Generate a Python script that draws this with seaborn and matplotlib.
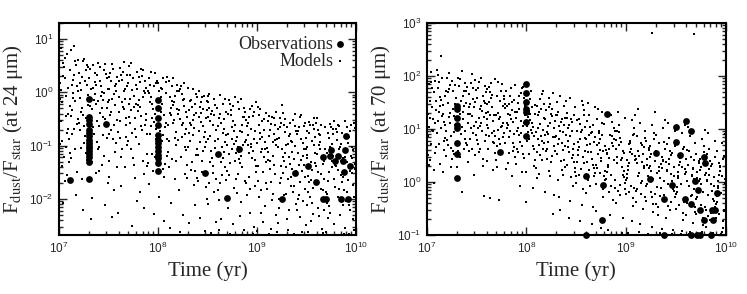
import numpy as np
import pandas as pd
import matplotlib
matplotlib.use("Agg")
import matplotlib.pyplot as plt
import seaborn as sns

# ---------------- data (log10 time [yr], log10 Fdust/Fstar) ----------------
models24 = [
(7.04,0.31),(7.08,-0.77),(7.01,-0.12),(7.06,0.64),(7.03,-1.38),(7.09,0.09),(7.02,-0.53),(7.07,-1.02),(7.05,0.47),(7.00,-0.26),(7.08,0.72),(7.03,-0.91),(7.06,-1.67),(7.01,0.18),(7.09,-0.41),(7.04,-2.08),(7.02,0.83),(7.07,-0.06),(7.05,-1.21),(7.00,0.38),
(7.13,-0.33),(7.17,0.52),(7.11,-1.14),(7.19,0.03),(7.15,-0.68),(7.12,0.79),(7.18,-1.49),(7.14,0.24),(7.10,-0.87),(7.16,-0.17),(7.19,0.61),(7.12,-0.44),(7.17,-1.93),(7.14,-0.02),(7.11,0.42),(7.16,-1.06),(7.13,0.14),(7.18,-0.59),(7.15,0.86),(7.10,-1.31),
(7.26,0.21),(7.21,-0.71),(7.29,-0.23),(7.24,0.58),(7.28,-1.27),(7.22,0.04),(7.27,-0.49),(7.20,0.36),(7.25,-0.96),(7.23,-1.62),(7.29,0.47),(7.21,-0.11),(7.26,-0.82),(7.24,-2.21),(7.28,0.13),(7.22,-0.37),(7.25,0.63),(7.27,-1.13),(7.20,-0.58),(7.23,0.28),
(7.35,-0.14),(7.31,0.44),(7.38,-0.93),(7.33,-0.31),(7.36,0.19),(7.30,-1.18),(7.39,0.55),(7.34,-0.66),(7.32,0.07),(7.37,-1.52),(7.31,-0.45),(7.38,0.32),(7.35,-0.79),(7.33,-1.99),(7.36,-0.04),(7.30,0.27),(7.39,-1.07),(7.34,0.51),(7.37,-0.22),(7.32,-2.38),
(7.42,0.12),(7.47,-0.57),(7.40,-1.03),(7.45,0.41),(7.49,-0.18),(7.43,-1.36),(7.48,0.26),(7.41,-0.39),(7.46,0.53),(7.44,-0.81),(7.49,-1.71),(7.42,-0.07),(7.47,0.34),(7.40,-0.63),(7.45,-1.19),(7.43,0.01),(7.48,-0.29),(7.41,0.48),(7.46,-2.12),(7.44,-0.46),
(7.57,-0.24),(7.52,0.37),(7.55,-0.88),(7.50,0.06),(7.59,-0.52),(7.54,0.54),(7.51,-1.29),(7.58,0.16),(7.53,-0.71),(7.56,-0.03),(7.50,-1.58),(7.59,0.29),(7.52,-0.43),(7.57,-1.12),(7.54,-2.34),(7.55,0.44),(7.51,-0.15),(7.58,-0.96),(7.53,0.21),(7.56,-1.84),
(7.63,0.33),(7.68,-0.48),(7.61,-0.09),(7.66,0.57),(7.64,-1.07),(7.69,0.11),(7.60,-0.74),(7.65,-0.27),(7.67,-1.41),(7.62,0.46),(7.68,-0.61),(7.63,-1.76),(7.66,0.02),(7.61,-0.36),(7.69,-0.99),(7.64,0.24),(7.60,-2.27),(7.67,-0.13),(7.62,-0.85),(7.65,0.39),
(7.76,-0.06),(7.71,0.49),(7.78,-0.83),(7.73,-0.34),(7.70,0.17),(7.75,-1.24),(7.79,0.38),(7.72,-0.58),(7.77,-1.61),(7.74,0.04),(7.70,-0.92),(7.78,-0.21),(7.73,0.55),(7.76,-1.37),(7.71,-0.47),(7.79,-2.04),(7.75,0.26),(7.72,-0.12),(7.77,-0.69),(7.74,-2.51),
(7.82,0.19),(7.87,-0.62),(7.80,-0.23),(7.85,0.41),(7.89,-1.16),(7.83,-0.44),(7.88,0.08),(7.81,-0.97),(7.86,-1.53),(7.84,0.31),(7.80,-0.35),(7.89,-0.78),(7.82,-1.88),(7.87,-0.01),(7.85,-1.29),(7.83,0.43),(7.88,-0.52),(7.81,-0.14),(7.86,-2.18),(7.84,-0.71),
(7.95,-0.32),(7.91,0.27),(7.98,-0.87),(7.93,-0.09),(7.97,0.36),(7.90,-1.33),(7.96,-0.56),(7.92,0.13),(7.99,-1.04),(7.94,-0.22),(7.91,-1.72),(7.97,-0.41),(7.93,0.39),(7.98,-0.68),(7.95,-1.47),(7.90,0.02),(7.96,-2.29),(7.92,-0.79),(7.99,0.21),(7.94,-1.15),
(8.03,0.09),(8.07,-0.66),(8.01,-0.28),(8.05,0.26),(8.09,-1.19),(8.02,-0.49),(8.08,-0.02),(8.04,-0.92),(8.06,-1.58),(8.00,0.17),(8.03,-0.37),(8.07,-1.34),(8.05,-0.81),(8.09,0.29),(8.01,-1.97),(8.08,-0.57),(8.02,-0.13),(8.06,-2.42),(8.04,0.06),(8.00,-1.08),
(8.16,-0.19),(8.11,0.21),(8.18,-0.74),(8.13,-0.43),(8.19,0.03),(8.14,-1.26),(8.10,-0.61),(8.17,-1.63),(8.12,-0.08),(8.15,0.27),(8.18,-0.98),(8.11,-1.41),(8.16,-0.52),(8.13,-2.07),(8.19,-0.31),(8.14,0.11),(8.10,-1.12),(8.17,-0.86),(8.12,-2.55),(8.15,-0.24),
(8.24,-0.04),(8.28,-0.69),(8.21,-0.33),(8.26,0.18),(8.23,-1.21),(8.29,-0.47),(8.20,-0.89),(8.27,-1.54),(8.25,-0.15),(8.22,0.07),(8.28,-1.09),(8.24,-0.62),(8.21,-1.83),(8.26,-0.26),(8.29,-1.37),(8.23,0.12),(8.27,-0.78),(8.25,-2.31),(8.20,-0.41),(8.22,-2.62),
(8.37,-0.21),(8.32,-0.58),(8.35,0.06),(8.30,-1.02),(8.38,-0.39),(8.33,-1.46),(8.39,-0.09),(8.31,-0.76),(8.36,-1.73),(8.34,-0.28),(8.30,0.09),(8.38,-1.18),(8.32,-0.91),(8.37,-2.12),(8.35,-0.52),(8.33,-0.14),(8.39,-1.61),(8.31,-2.45),(8.36,-0.67),(8.34,-1.31),
(8.42,-0.27),(8.46,-0.83),(8.41,0.02),(8.48,-0.49),(8.44,-1.29),(8.49,-0.16),(8.40,-1.66),(8.45,-0.63),(8.47,-1.03),(8.43,-0.38),(8.49,-2.01),(8.41,-0.72),(8.46,-0.07),(8.44,-1.49),(8.48,-0.94),(8.42,-2.36),(8.45,-0.31),(8.40,-1.17),(8.47,-2.61),(8.43,-0.55),
(8.55,-0.35),(8.51,-0.06),(8.58,-0.91),(8.53,-0.54),(8.56,-1.38),(8.50,-0.19),(8.59,-0.71),(8.52,-1.71),(8.57,-0.43),(8.54,-1.11),(8.50,-2.09),(8.58,-0.24),(8.53,-0.82),(8.56,-1.52),(8.51,-0.47),(8.59,-2.44),(8.55,-1.24),(8.52,-0.03),(8.57,-1.88),(8.54,-2.64),
(8.63,-0.41),(8.68,-0.12),(8.61,-0.87),(8.66,-1.23),(8.64,-0.58),(8.69,-1.64),(8.60,-0.29),(8.65,-1.02),(8.67,-0.69),(8.62,-2.03),(8.68,-1.41),(8.63,-0.05),(8.66,-0.77),(8.61,-1.83),(8.69,-0.36),(8.64,-2.38),(8.60,-1.14),(8.67,-0.51),(8.62,-2.59),(8.65,-1.56),
(8.74,-0.33),(8.71,-0.79),(8.78,-0.08),(8.72,-1.16),(8.76,-0.54),(8.70,-1.47),(8.79,-0.92),(8.73,-0.21),(8.77,-1.79),(8.75,-0.66),(8.71,-2.18),(8.78,-1.28),(8.74,-0.43),(8.70,-0.98),(8.76,-2.47),(8.72,-0.14),(8.79,-1.62),(8.77,-0.73),(8.73,-2.66),(8.75,-1.07),
(8.86,-0.46),(8.81,-0.18),(8.88,-0.94),(8.83,-1.33),(8.85,-0.61),(8.89,-1.71),(8.80,-0.84),(8.87,-0.29),(8.82,-1.12),(8.84,-2.06),(8.89,-0.52),(8.81,-1.54),(8.86,-0.99),(8.83,-2.33),(8.88,-0.37),(8.80,-1.89),(8.85,-0.74),(8.87,-2.58),(8.82,-1.26),(8.84,-0.12),
(8.93,-0.31),(8.97,-0.88),(8.91,-0.57),(8.95,-1.24),(8.99,-0.19),(8.92,-1.59),(8.98,-0.72),(8.94,-1.03),(8.90,-1.92),(8.96,-0.44),(8.93,-2.27),(8.99,-1.38),(8.91,-0.81),(8.97,-2.52),(8.95,-0.26),(8.92,-1.14),(8.98,-1.76),(8.90,-0.63),(8.96,-2.66),(8.94,-0.97),
(9.05,-0.53),(9.01,-0.28),(9.08,-1.07),(9.03,-0.76),(9.06,-1.49),(9.00,-0.95),(9.09,-0.39),(9.04,-1.83),(9.07,-1.22),(9.02,-0.61),(9.08,-2.14),(9.05,-0.84),(9.01,-1.66),(9.06,-2.43),(9.03,-0.32),(9.09,-1.31),(9.00,-2.61),(9.07,-0.71),(9.02,-1.97),(9.04,-1.12),
(9.12,-0.44),(9.16,-0.93),(9.11,-1.27),(9.18,-0.62),(9.14,-1.68),(9.19,-0.36),(9.10,-1.04),(9.15,-2.02),(9.17,-0.78),(9.13,-1.44),(9.19,-2.31),(9.11,-0.54),(9.16,-1.19),(9.14,-2.57),(9.18,-0.89),(9.10,-1.81),(9.15,-0.47),(9.12,-2.66),(9.17,-1.36),(9.13,-0.71),
(9.25,-0.23),(9.21,-0.69),(9.28,-1.13),(9.23,-0.48),(9.26,-1.52),(9.20,-0.87),(9.29,-1.91),(9.24,-0.57),(9.27,-1.29),(9.22,-2.18),(9.28,-0.74),(9.25,-1.06),(9.21,-2.46),(9.26,-0.39),(9.23,-1.71),(9.29,-0.98),(9.20,-2.63),(9.27,-0.61),(9.24,-1.38),(9.22,-2.01),
(9.36,-0.52),(9.31,-0.97),(9.38,-0.41),(9.33,-1.34),(9.37,-1.76),(9.30,-0.66),(9.35,-1.12),(9.39,-2.09),(9.32,-0.82),(9.34,-1.58),(9.30,-2.38),(9.38,-1.01),(9.33,-0.58),(9.36,-1.87),(9.31,-2.59),(9.39,-0.73),(9.35,-1.43),(9.32,-1.21),(9.37,-2.65),(9.34,-0.92),
(9.43,-0.47),(9.47,-1.06),(9.41,-0.73),(9.45,-1.48),(9.49,-0.86),(9.42,-1.93),(9.48,-0.58),(9.44,-1.27),(9.40,-2.21),(9.46,-0.95),(9.43,-1.69),(9.49,-2.49),(9.41,-1.14),(9.47,-0.64),(9.45,-2.62),(9.42,-1.37),(9.48,-1.81),(9.40,-0.79),(9.46,-2.04),(9.44,-0.43),
(9.54,-0.62),(9.51,-1.18),(9.58,-0.49),(9.52,-1.57),(9.56,-0.91),(9.50,-2.12),(9.59,-1.33),(9.53,-0.77),(9.57,-1.79),(9.55,-2.41),(9.51,-1.02),(9.58,-0.68),(9.52,-2.63),(9.56,-1.46),(9.54,-1.97),(9.59,-0.84),(9.50,-1.24),(9.57,-2.28),(9.53,-0.55),(9.55,-1.64),
(9.62,-0.71),(9.66,-1.21),(9.61,-0.48),(9.68,-1.62),(9.64,-0.93),(9.69,-2.03),(9.60,-1.39),(9.65,-0.62),(9.67,-1.84),(9.63,-2.33),(9.69,-1.07),(9.61,-1.71),(9.66,-2.56),(9.64,-0.81),(9.68,-1.28),(9.62,-2.17),(9.65,-1.53),(9.60,-0.57),(9.67,-2.64),(9.63,-0.99),
(9.75,-0.66),(9.71,-1.13),(9.78,-0.53),(9.73,-1.49),(9.76,-0.97),(9.70,-1.88),(9.79,-1.27),(9.74,-2.26),(9.77,-0.78),(9.72,-1.66),(9.78,-2.48),(9.75,-1.04),(9.71,-2.07),(9.76,-1.41),(9.73,-0.86),(9.79,-1.77),(9.70,-2.62),(9.77,-1.19),(9.74,-0.59),(9.72,-2.35),
(9.83,-0.63),(9.87,-1.24),(9.81,-0.89),(9.85,-1.56),(9.89,-0.54),(9.82,-1.97),(9.88,-1.09),(9.84,-2.31),(9.80,-1.38),(9.86,-0.76),(9.83,-1.81),(9.89,-2.54),(9.81,-1.17),(9.87,-2.12),(9.85,-0.97),(9.82,-1.46),(9.88,-2.66),(9.80,-0.69),(9.86,-1.69),(9.84,-1.02),
(9.94,-0.72),(9.91,-1.31),(9.98,-0.58),(9.92,-1.64),(9.96,-1.02),(9.90,-2.04),(9.99,-1.43),(9.93,-0.84),(9.97,-2.38),(9.95,-1.19),(9.91,-1.87),(9.98,-2.59),(9.92,-0.96),(9.96,-1.52),(9.94,-2.21),(9.99,-0.67),(9.90,-1.11),(9.97,-1.74),(9.93,-2.66),(9.95,-0.61),
]

models24_extra = [
(7.02,0.05),(7.07,-0.44),(7.04,0.55),(7.09,-0.68),(7.01,-0.97),(7.06,0.27),(7.03,-0.18),(7.08,-1.55),
(7.15,0.33),(7.11,-0.25),(7.18,0.12),(7.13,-0.79),(7.16,0.58),(7.12,-1.23),(7.19,-0.51),(7.14,-0.11),
(7.23,-0.29),(7.27,0.41),(7.21,0.17),(7.25,-0.63),(7.29,-0.05),(7.22,-1.04),(7.28,0.52),(7.24,-0.42),
(7.34,0.08),(7.38,-0.53),(7.31,-0.25),(7.36,0.36),(7.33,-1.31),(7.39,-0.16),(7.30,-0.71),(7.37,0.13),
(7.44,-0.14),(7.48,-0.86),(7.41,0.22),(7.46,-0.51),(7.43,-0.29),(7.49,0.07),(7.40,-1.47),(7.45,-0.02),
(7.53,-0.37),(7.58,0.03),(7.51,0.29),(7.56,-0.61),(7.54,-0.12),(7.59,-1.41),(7.50,-0.78),(7.57,0.12),
(7.64,-0.19),(7.61,0.21),(7.68,-0.84),(7.62,-0.54),(7.66,-0.31),(7.69,0.32),(7.63,-1.22),(7.67,0.07),
(7.72,0.32),(7.76,-0.28),(7.74,-0.77),(7.79,0.07),(7.71,-0.21),(7.77,-0.49),(7.73,-1.06),(7.78,0.14),
(7.85,-0.09),(7.81,0.28),(7.88,-0.41),(7.83,-0.64),(7.86,0.02),(7.89,-1.38),(7.82,-0.28),(7.87,0.21),
(7.92,-0.18),(7.96,0.11),(7.94,-0.49),(7.99,-0.83),(7.91,-0.02),(7.97,-1.22),(7.93,-0.64),(7.98,0.18),
(8.04,-0.21),(8.08,0.19),(8.02,-0.73),(8.06,-0.42),(8.01,0.02),(8.09,-0.88),(8.05,-1.43),(8.03,-0.09),
(8.13,-0.29),(8.17,-0.06),(8.11,-0.91),(8.15,-0.57),(8.19,0.14),(8.12,-0.39),(8.18,-1.29),(8.14,-0.17),
(8.22,-0.51),(8.26,-0.12),(8.28,-0.36),(8.24,-0.83),(8.21,0.02),(8.27,-1.02),(8.25,-0.57),(8.29,-1.61),
(8.31,-0.33),(8.35,-0.81),(8.38,-0.04),(8.33,-0.61),(8.36,-0.43),(8.39,-1.07),(8.32,-0.17),(8.37,-1.47),
(8.43,-0.19),(8.47,-0.74),(8.41,-0.46),(8.45,-1.11),(8.49,-0.33),(8.42,-0.93),(8.48,-1.77),(8.44,-0.09),
(8.52,-0.29),(8.56,-0.62),(8.58,-1.04),(8.54,-0.41),(8.51,-0.87),(8.57,-0.13),(8.53,-1.31),(8.59,-1.63),
(8.62,-0.48),(8.66,-0.21),(8.68,-0.94),(8.64,-1.31),(8.61,-0.63),(8.67,-1.12),(8.63,-1.71),(8.69,-0.81),
(8.71,-0.41),(8.75,-0.87),(8.78,-0.61),(8.73,-1.33),(8.76,-0.26),(8.79,-1.14),(8.72,-1.56),(8.77,-0.97),
(8.83,-0.72),(8.87,-0.47),(8.81,-1.02),(8.85,-1.41),(8.89,-0.89),(8.82,-0.31),(8.88,-1.67),(8.84,-1.19),
(8.92,-0.46),(8.96,-1.11),(8.94,-0.69),(8.99,-1.49),(8.91,-0.98),(8.97,-0.36),(8.93,-1.82),(8.98,-1.27),
(9.03,-0.88),(9.07,-0.51),(9.01,-1.39),(9.05,-1.07),(9.09,-1.71),(9.02,-0.43),(9.08,-0.93),(9.04,-2.27),
(9.14,-0.59),(9.11,-1.12),(9.18,-1.54),(9.12,-0.82),(9.16,-1.91),(9.19,-0.98),(9.13,-1.29),(9.17,-0.49),
(9.22,-0.86),(9.26,-1.21),(9.28,-0.51),(9.24,-1.61),(9.21,-1.03),(9.27,-1.93),(9.23,-0.66),(9.29,-1.41),
(9.33,-0.79),(9.37,-1.26),(9.31,-1.63),(9.35,-0.93),(9.39,-1.48),(9.32,-2.21),(9.38,-0.63),(9.34,-1.76),
(9.42,-0.66),(9.46,-1.19),(9.48,-1.58),(9.44,-0.88),(9.41,-2.01),(9.47,-1.36),(9.43,-2.34),(9.49,-1.07),
(9.51,-0.73),(9.55,-1.31),(9.58,-0.98),(9.53,-1.69),(9.56,-2.08),(9.59,-1.14),(9.52,-1.88),(9.57,-0.61),
(9.63,-0.79),(9.67,-1.34),(9.61,-1.16),(9.65,-1.81),(9.69,-0.66),(9.62,-1.49),(9.68,-2.21),(9.64,-1.07),
(9.72,-0.77),(9.76,-1.28),(9.78,-1.62),(9.74,-1.02),(9.71,-1.91),(9.77,-0.68),(9.73,-2.13),(9.79,-1.37),
(9.81,-0.74),(9.85,-1.29),(9.88,-1.83),(9.83,-1.07),(9.86,-2.02),(9.89,-1.21),(9.82,-0.61),(9.87,-1.59),
(9.92,-0.81),(9.96,-1.23),(9.98,-1.96),(9.94,-1.47),(9.91,-0.66),(9.97,-1.08),(9.93,-2.12),(9.99,-1.34),
]

models70 = [
(7.05,1.42),(7.01,0.87),(7.08,1.91),(7.03,0.41),(7.06,1.18),(7.00,1.63),(7.09,0.66),(7.04,2.07),(7.02,1.03),(7.07,0.23),(7.05,1.77),(7.01,1.29),(7.08,0.54),(7.03,1.52),(7.06,0.96),(7.00,2.18),(7.09,1.36),(7.04,0.72),(7.02,1.84),(7.07,-0.02),
(7.13,1.61),(7.17,0.78),(7.11,2.02),(7.15,1.24),(7.19,0.49),(7.12,1.88),(7.18,1.07),(7.14,2.38),(7.10,0.92),(7.16,1.46),(7.13,0.34),(7.19,1.72),(7.11,1.15),(7.17,0.61),(7.15,1.97),(7.12,1.33),(7.18,0.83),(7.14,1.55),(7.10,2.11),(7.16,0.18),
(7.26,1.38),(7.21,0.69),(7.28,1.83),(7.23,1.11),(7.25,0.44),(7.29,1.58),(7.20,1.96),(7.24,0.87),(7.27,1.25),(7.22,2.06),(7.26,0.58),(7.29,1.02),(7.21,1.69),(7.24,0.29),(7.28,1.47),(7.20,0.79),(7.25,1.91),(7.23,1.31),(7.27,0.95),(7.22,1.76),
(7.34,1.53),(7.38,0.82),(7.31,1.97),(7.36,1.19),(7.33,0.47),(7.39,1.71),(7.30,1.04),(7.35,2.09),(7.37,0.63),(7.32,1.37),(7.38,1.86),(7.34,0.91),(7.30,0.28),(7.36,1.62),(7.31,1.21),(7.39,0.74),(7.33,1.94),(7.37,1.43),(7.35,-0.18),(7.32,1.08),
(7.42,1.66),(7.46,0.93),(7.41,1.29),(7.48,0.51),(7.44,1.87),(7.49,1.13),(7.40,0.69),(7.45,2.03),(7.47,1.41),(7.43,0.82),(7.49,1.74),(7.41,0.37),(7.46,1.57),(7.44,1.01),(7.48,1.93),(7.42,0.58),(7.45,1.24),(7.40,1.79),(7.47,0.14),(7.43,1.48),
(7.55,1.34),(7.51,0.71),(7.58,1.81),(7.53,1.06),(7.56,0.43),(7.50,1.59),(7.59,0.88),(7.54,1.96),(7.57,1.22),(7.52,0.56),(7.58,1.49),(7.55,0.97),(7.51,1.78),(7.56,0.31),(7.53,1.38),(7.59,1.69),(7.50,0.79),(7.57,-0.27),(7.54,1.12),(7.52,1.88),
(7.63,1.51),(7.67,0.76),(7.61,1.18),(7.65,1.87),(7.69,0.54),(7.62,1.33),(7.68,0.97),(7.64,1.69),(7.60,0.39),(7.66,1.42),(7.63,0.86),(7.69,1.94),(7.61,1.07),(7.67,0.22),(7.65,1.58),(7.62,0.63),(7.68,1.26),(7.64,-0.31),(7.60,1.76),(7.66,0.92),
(7.74,1.22),(7.71,0.67),(7.78,1.63),(7.72,0.99),(7.76,1.84),(7.70,0.42),(7.79,1.39),(7.73,0.81),(7.77,1.12),(7.75,1.71),(7.71,0.29),(7.78,0.93),(7.74,1.52),(7.70,1.27),(7.76,0.57),(7.72,1.88),(7.79,0.74),(7.77,1.44),(7.73,-0.34),(7.75,1.03),
(7.83,1.47),(7.87,0.73),(7.81,1.11),(7.85,1.78),(7.89,0.48),(7.82,1.29),(7.88,0.91),(7.84,1.62),(7.80,0.24),(7.86,1.36),(7.83,0.84),(7.89,1.83),(7.81,1.02),(7.87,0.59),(7.85,1.19),(7.82,0.36),(7.88,1.54),(7.84,0.97),(7.80,1.71),(7.86,0.11),
(7.95,1.16),(7.91,0.62),(7.98,1.58),(7.93,0.89),(7.96,1.77),(7.90,0.34),(7.99,1.27),(7.94,0.76),(7.97,1.05),(7.92,1.49),(7.98,0.45),(7.95,1.68),(7.91,0.97),(7.96,0.18),(7.93,1.38),(7.99,0.83),(7.90,1.21),(7.97,1.79),(7.94,-0.08),(7.92,0.57),
(8.03,1.34),(8.07,0.68),(8.01,1.05),(8.05,1.71),(8.09,0.41),(8.02,1.23),(8.08,0.87),(8.04,1.56),(8.00,0.19),(8.06,1.12),(8.03,0.53),(8.09,1.45),(8.01,0.78),(8.07,-0.11),(8.05,0.99),(8.02,1.64),(8.08,0.31),(8.04,1.28),(8.00,-0.38),(8.06,0.92),
(8.14,1.09),(8.11,0.57),(8.18,1.47),(8.12,0.82),(8.16,1.66),(8.10,0.27),(8.19,1.19),(8.13,0.69),(8.17,0.98),(8.15,1.38),(8.11,0.08),(8.18,0.74),(8.14,1.57),(8.10,0.94),(8.16,0.42),(8.12,1.26),(8.19,-0.19),(8.17,1.71),(8.13,0.16),(8.15,0.87),
(8.26,1.24),(8.21,0.63),(8.28,1.01),(8.23,1.59),(8.25,0.37),(8.29,0.85),(8.20,1.36),(8.24,0.12),(8.27,1.68),(8.22,0.76),(8.26,0.49),(8.29,1.16),(8.21,0.94),(8.24,1.48),(8.28,-0.24),(8.20,0.58),(8.25,1.29),(8.23,0.21),(8.27,-0.61),(8.22,1.05),
(8.35,1.14),(8.31,0.52),(8.38,1.43),(8.33,0.81),(8.36,0.23),(8.30,1.27),(8.39,0.67),(8.34,1.62),(8.37,0.94),(8.32,0.03),(8.38,1.08),(8.35,0.39),(8.31,1.51),(8.36,0.74),(8.33,-0.29),(8.39,1.21),(8.30,0.86),(8.37,0.14),(8.34,-0.52),(8.32,1.33),
(8.42,1.02),(8.46,0.46),(8.41,1.31),(8.48,0.71),(8.44,1.59),(8.49,0.19),(8.40,0.88),(8.45,1.19),(8.47,-0.07),(8.43,0.57),(8.49,1.42),(8.41,0.33),(8.46,0.97),(8.44,-0.36),(8.48,1.27),(8.42,0.78),(8.45,0.09),(8.40,1.53),(8.47,0.62),(8.43,-0.68),
(8.55,0.94),(8.51,0.38),(8.58,1.27),(8.53,0.66),(8.56,1.52),(8.50,0.11),(8.59,0.83),(8.54,1.09),(8.57,-0.14),(8.52,0.51),(8.58,1.36),(8.55,0.24),(8.51,0.97),(8.56,-0.43),(8.53,1.18),(8.59,0.59),(8.50,-0.02),(8.57,1.45),(8.54,-0.74),(8.52,0.76),
(8.63,0.88),(8.67,0.32),(8.61,1.16),(8.65,0.57),(8.69,1.41),(8.62,0.04),(8.68,0.76),(8.64,1.03),(8.60,-0.21),(8.66,0.44),(8.63,1.27),(8.69,0.17),(8.61,0.69),(8.67,-0.48),(8.65,0.93),(8.62,1.49),(8.68,0.27),(8.64,-0.07),(8.60,0.81),(8.66,-0.79),
(8.74,0.81),(8.71,0.27),(8.78,1.09),(8.72,0.52),(8.76,1.33),(8.70,-0.04),(8.79,0.68),(8.73,0.97),(8.77,-0.28),(8.75,0.39),(8.71,1.19),(8.78,0.11),(8.74,0.61),(8.70,-0.55),(8.76,0.88),(8.72,1.38),(8.79,0.21),(8.77,-0.13),(8.73,0.74),(8.75,-0.86),
(8.86,0.74),(8.81,0.19),(8.88,1.02),(8.83,0.46),(8.85,1.27),(8.89,-0.11),(8.80,0.61),(8.84,0.89),(8.87,-0.34),(8.82,0.33),(8.86,1.13),(8.89,0.04),(8.81,0.54),(8.84,-0.62),(8.88,0.82),(8.80,1.31),(8.85,0.14),(8.83,-0.19),(8.87,0.67),(8.82,-0.91),
(8.93,0.69),(8.97,0.13),(8.91,0.96),(8.95,0.41),(8.99,1.21),(8.92,-0.17),(8.98,0.55),(8.94,0.83),(8.90,-0.39),(8.96,0.28),(8.93,1.07),(8.99,-0.02),(8.91,0.47),(8.97,-0.68),(8.95,0.76),(8.92,1.32),(8.98,0.09),(8.94,-0.24),(8.90,0.62),(8.96,-0.96),
(9.05,0.63),(9.01,0.07),(9.08,0.91),(9.03,0.36),(9.06,1.17),(9.00,-0.23),(9.09,0.49),(9.04,0.78),(9.07,-0.45),(9.02,0.22),(9.08,1.02),(9.05,-0.08),(9.01,0.42),(9.06,-0.73),(9.03,0.71),(9.09,1.26),(9.00,0.03),(9.07,-0.31),(9.04,0.56),(9.02,-0.97),
(9.12,0.58),(9.16,0.01),(9.11,0.86),(9.18,0.31),(9.14,1.12),(9.19,-0.29),(9.10,0.44),(9.15,0.73),(9.17,-0.51),(9.13,0.17),(9.19,0.97),(9.11,-0.14),(9.16,0.38),(9.14,-0.79),(9.18,0.66),(9.12,1.38),(9.15,-0.02),(9.10,-0.37),(9.17,0.52),(9.13,-0.94),
(9.25,0.53),(9.21,-0.04),(9.28,0.81),(9.23,0.26),(9.26,1.07),(9.20,-0.35),(9.29,0.39),(9.24,0.68),(9.27,-0.57),(9.22,0.12),(9.28,0.93),(9.25,-0.19),(9.21,0.33),(9.26,-0.84),(9.23,0.61),(9.29,1.33),(9.20,-0.07),(9.27,-0.42),(9.24,0.47),(9.22,-0.98),
(9.36,0.48),(9.31,-0.09),(9.38,0.76),(9.33,0.21),(9.37,1.02),(9.30,-0.41),(9.35,0.34),(9.39,0.63),(9.32,-0.62),(9.34,0.07),(9.30,0.88),(9.38,-0.24),(9.33,0.28),(9.36,-0.89),(9.31,0.56),(9.39,1.17),(9.35,-0.12),(9.32,-0.47),(9.37,0.42),(9.34,-0.97),
(9.43,0.43),(9.47,-0.14),(9.41,0.71),(9.45,0.16),(9.49,0.97),(9.42,-0.46),(9.48,0.29),(9.44,0.58),(9.40,-0.67),(9.46,0.02),(9.43,0.83),(9.49,-0.29),(9.41,0.23),(9.47,-0.91),(9.45,0.51),(9.42,1.12),(9.48,-0.17),(9.44,-0.53),(9.40,0.37),(9.46,-0.98),
(9.54,0.38),(9.51,-0.19),(9.58,0.66),(9.52,0.11),(9.56,0.92),(9.50,-0.51),(9.59,0.24),(9.53,0.53),(9.57,-0.72),(9.55,-0.03),(9.51,0.78),(9.58,-0.34),(9.52,0.18),(9.56,-0.93),(9.54,0.46),(9.59,1.07),(9.50,-0.22),(9.57,-0.58),(9.53,0.32),(9.55,-0.99),
(9.62,0.33),(9.66,-0.24),(9.61,0.61),(9.68,0.06),(9.64,0.87),(9.69,-0.56),(9.60,0.19),(9.65,0.48),(9.67,-0.77),(9.63,-0.08),(9.69,0.73),(9.61,-0.39),(9.66,0.13),(9.64,-0.94),(9.68,0.41),(9.62,1.03),(9.65,-0.27),(9.60,-0.63),(9.67,0.27),(9.63,-0.99),
(9.75,0.28),(9.71,-0.29),(9.78,0.56),(9.73,0.01),(9.76,0.82),(9.70,-0.61),(9.79,0.14),(9.74,0.43),(9.77,-0.81),(9.72,-0.13),(9.78,0.68),(9.75,-0.44),(9.71,0.08),(9.76,-0.95),(9.73,0.36),(9.79,0.98),(9.70,-0.32),(9.77,-0.67),(9.74,0.22),(9.72,-0.99),
(9.83,0.24),(9.87,-0.33),(9.81,0.52),(9.85,-0.04),(9.89,0.78),(9.82,-0.64),(9.88,0.09),(9.84,0.39),(9.80,-0.84),(9.86,-0.17),(9.83,0.63),(9.89,-0.48),(9.81,0.03),(9.87,-0.96),(9.85,0.31),(9.82,0.93),(9.88,-0.36),(9.84,-0.71),(9.80,0.17),(9.86,-0.99),
(9.94,0.21),(9.91,-0.37),(9.98,0.49),(9.92,-0.07),(9.96,0.74),(9.90,-0.67),(9.99,0.06),(9.93,0.35),(9.97,-0.87),(9.95,-0.21),(9.91,0.59),(9.98,-0.52),(9.92,0.01),(9.96,-0.95),(9.94,0.28),(9.99,0.91),(9.90,-0.41),(9.97,-0.74),(9.93,0.14),(9.95,-0.99),
(9.26,2.81),(9.68,2.79),
]

models70_extra = [
(7.03,1.21),(7.07,1.69),(7.01,0.51),(7.05,0.99),(7.09,1.53),(7.02,0.33),(7.08,1.12),(7.04,1.88),
(7.14,1.02),(7.18,1.63),(7.12,0.72),(7.16,1.29),(7.11,1.77),(7.19,0.96),(7.13,1.43),(7.17,1.14),
(7.22,1.23),(7.26,1.72),(7.24,0.64),(7.28,1.07),(7.21,1.49),(7.27,0.53),(7.23,1.83),(7.29,1.36),
(7.33,1.28),(7.37,1.72),(7.31,0.59),(7.35,1.04),(7.39,1.49),(7.32,1.81),(7.38,0.97),(7.36,1.32),
(7.41,1.12),(7.45,0.62),(7.48,1.51),(7.43,1.28),(7.46,1.78),(7.49,0.89),(7.42,1.42),(7.47,1.06),
(7.52,1.21),(7.56,1.63),(7.58,0.77),(7.54,1.44),(7.51,1.01),(7.57,1.52),(7.53,0.63),(7.59,1.31),
(7.62,1.02),(7.66,1.64),(7.68,0.73),(7.64,1.27),(7.61,1.47),(7.67,1.16),(7.63,1.79),(7.69,0.87),
(7.72,1.31),(7.76,1.06),(7.78,1.57),(7.74,0.71),(7.71,1.62),(7.77,0.84),(7.73,1.19),(7.79,1.47),
(7.82,1.07),(7.86,1.51),(7.88,0.66),(7.84,1.26),(7.81,1.43),(7.87,1.14),(7.83,0.54),(7.89,1.33),
(7.91,1.33),(7.95,0.92),(7.98,1.12),(7.93,1.62),(7.96,0.68),(7.99,1.44),(7.92,1.01),(7.97,0.53),
(8.02,0.94),(8.06,1.41),(8.08,0.62),(8.04,1.17),(8.01,1.52),(8.07,1.03),(8.03,0.82),(8.09,1.28),
(8.12,1.02),(8.16,0.77),(8.18,1.21),(8.14,0.51),(8.11,1.43),(8.17,0.62),(8.13,1.32),(8.19,0.88),
(8.22,0.91),(8.26,1.37),(8.28,0.67),(8.24,1.12),(8.21,0.43),(8.27,0.84),(8.23,1.41),(8.29,0.58),
(8.32,0.72),(8.36,1.18),(8.38,0.41),(8.34,0.96),(8.31,1.26),(8.37,0.61),(8.33,1.06),(8.39,0.29),
(8.42,0.66),(8.46,1.13),(8.48,0.38),(8.44,0.86),(8.41,1.21),(8.47,0.51),(8.43,1.07),(8.49,0.27),
(8.52,0.61),(8.56,0.98),(8.58,0.36),(8.54,0.82),(8.51,1.17),(8.57,0.47),(8.53,0.14),(8.59,1.04),
(8.62,0.57),(8.66,0.94),(8.68,0.11),(8.64,0.72),(8.61,0.38),(8.67,1.08),(8.63,0.23),(8.69,0.84),
(8.75,0.46),(8.71,0.69),(8.79,0.04),(8.73,0.93),(8.77,0.58),(8.70,0.33),(8.76,1.12),(8.74,0.17),
(8.88,0.41),(8.83,0.63),(8.80,0.06),(8.86,0.86),(8.82,0.28),(8.89,0.97),(8.85,-0.08),(8.81,0.53),
(8.91,0.36),(8.97,0.58),(8.94,-0.05),(8.90,0.79),(8.98,0.21),(8.93,0.94),(8.99,-0.14),(8.96,0.46),
(9.02,0.31),(9.06,0.53),(9.08,-0.11),(9.04,0.74),(9.01,0.16),(9.07,0.88),(9.03,-0.18),(9.09,0.41),
(9.18,0.26),(9.13,0.49),(9.10,-0.17),(9.16,0.69),(9.12,0.11),(9.19,0.83),(9.15,-0.22),(9.11,0.36),
(9.25,0.21),(9.21,0.44),(9.29,-0.22),(9.23,0.64),(9.27,0.06),(9.20,0.78),(9.26,-0.28),(9.24,0.31),
(9.31,0.17),(9.37,0.39),(9.34,-0.27),(9.30,0.59),(9.38,0.01),(9.33,0.73),(9.39,-0.33),(9.36,0.26),
(9.48,0.12),(9.43,0.34),(9.40,-0.32),(9.46,0.54),(9.42,-0.04),(9.49,0.68),(9.45,-0.38),(9.41,0.21),
(9.52,0.07),(9.56,0.29),(9.58,-0.37),(9.54,0.49),(9.51,-0.09),(9.57,0.63),(9.53,-0.43),(9.59,0.16),
(9.61,0.02),(9.67,0.24),(9.64,-0.42),(9.60,0.44),(9.68,-0.14),(9.63,0.58),(9.69,-0.48),(9.66,0.11),
(9.75,-0.03),(9.71,0.19),(9.79,-0.47),(9.73,0.39),(9.77,-0.19),(9.70,0.53),(9.76,-0.53),(9.74,0.06),
(9.88,-0.08),(9.83,0.14),(9.80,-0.52),(9.86,0.34),(9.82,-0.24),(9.89,0.48),(9.85,-0.58),(9.81,0.01),
(9.92,-0.11),(9.96,0.11),(9.98,-0.55),(9.94,0.31),(9.91,-0.27),(9.97,0.44),(9.93,-0.61),(9.99,-0.02),
]

# observations: time [yr], Fdust/Fstar
obs24_t = [1.28e7, 2e7, 2e7, 2e7, 2e7, 2e7, 2e7, 2e7, 2e7, 2e7, 2e7, 2e7, 2e7, 2e7, 2e7, 2e7, 2e7, 3e7,
           1e8, 1e8, 1e8, 1e8, 1e8, 1e8, 1e8, 1e8, 1e8, 1e8, 1e8, 1e8, 1e8,
           3e8, 4e8, 5e8, 6.6e8, 1.8e9, 2.4e9, 3.3e9, 3.9e9, 4.6e9, 4.6e9, 5e9, 5.5e9, 5.6e9,
           6.1e9, 6.6e9, 7e9, 7.4e9, 7.6e9, 7.8e9, 8e9, 8.3e9, 8.7e9]
obs24_f = [0.0227, 0.75, 0.35, 0.3, 0.25, 0.2, 0.17, 0.15, 0.13, 0.11, 0.1, 0.09, 0.08, 0.07, 0.06, 0.05, 0.0237, 0.255,
           0.72, 0.5, 0.33, 0.245, 0.16, 0.13, 0.11, 0.095, 0.08, 0.068, 0.058, 0.048, 0.0335,
           0.031, 0.07, 0.0102, 0.087, 0.01, 0.031, 0.0416, 0.021, 0.061, 0.01, 0.01, 0.063, 0.083,
           0.052, 0.063, 0.01, 0.052, 0.032, 0.083, 0.15, 0.01, 0.042]

obs70_t = [2e7, 2e7, 2e7, 2e7, 2e7, 2e7, 2e7, 2e7, 5.4e7,
           1e8, 1e8, 1e8, 1e8, 1e8, 1e8, 1e8,
           4e8, 4e8, 5.9e8, 5.8e8, 6.4e8, 1.75e9, 2e9, 2.4e9, 2.4e9, 2.9e9, 3.15e9, 3.2e9, 3.45e9,
           3.9e9, 4e9, 4.45e9, 4.45e9, 4.45e9, 5.1e9, 5.5e9, 4.9e9, 5.3e9, 5.5e9, 6e9, 6.2e9, 6.1e9,
           7.1e9, 7.3e9, 7.5e9, 7.9e9, 8.2e9]
obs70_f = [27, 24, 16, 12, 10.4, 5.4, 3.4, 1.2, 3.65,
           70, 47.5, 32.6, 24, 21, 13.3, 7.4,
           1.32, 0.1, 0.87, 0.19, 19.4, 1.14, 3.5, 0.1, 0.48, 0.87, 5.8, 11.1, 3.25,
           0.48, 13.9, 9.2, 0.39, 0.1, 0.1, 0.1, 1.06, 0.7, 0.29, 2.9, 2.3, 0.19,
           0.1, 0.29, 0.19, 0.29, 0.61]

# ---------------- styling ----------------
sns.set_style("ticks")
plt.rcParams["font.family"] = ["Liberation Sans", "DejaVu Sans"]
plt.rcParams["mathtext.fontset"] = "stix"
plt.rcParams["mathtext.default"] = "regular"

fig = plt.figure(figsize=(7.47, 2.94), dpi=100)
ax1 = fig.add_axes([59/747, 1-235/294, 297/747, 212/294])
ax2 = fig.add_axes([426.7/747, 1-235/294, 299/747, 212/294])

panels = [
    (ax1, models24 + models24_extra, obs24_t, obs24_f, (2.1e-3, 20), "24"),
    (ax2, models70 + models70_extra, obs70_t, obs70_f, (0.1, 1000), "70"),
]

serif = ["Liberation Serif", "DejaVu Serif"]

for ax, models, ot, of, ylim, band in panels:
    md = pd.DataFrame(models, columns=["logt", "logf"])
    md["t"] = 10 ** md["logt"]
    md["f"] = 10 ** md["logf"]
    od = pd.DataFrame({"t": ot, "f": of})
    sns.scatterplot(data=md, x="t", y="f", ax=ax, marker="s", s=2.6,
                    color="black", linewidth=0, label="Models")
    sns.scatterplot(data=od, x="t", y="f", ax=ax, marker="o", s=24,
                    color="black", linewidth=0, label="Observations",
                    clip_on=False, zorder=3)
    ax.set_xscale("log")
    ax.set_yscale("log")
    ax.set_xlim(1e7, 1e10)
    ax.set_ylim(*ylim)
    ax.set_xlabel("Time (yr)", fontsize=15, family=serif, labelpad=4)
    ax.set_ylabel(r"F$_{\rm dust}$/F$_{\rm star}$ (at %s μm)" % band,
                  fontsize=15, family=serif, labelpad=3)
    ax.tick_params(which="both", direction="in", top=True, right=True,
                   labelsize=8.5, width=1.0, pad=4)
    ax.tick_params(which="major", length=6)
    ax.tick_params(which="minor", length=3)
    for sp in ax.spines.values():
        sp.set_linewidth(1.5)
        sp.set_color("black")
    leg = ax.get_legend()
    if leg is not None:
        leg.remove()

# legend on left panel only
h, l = ax1.get_legend_handles_labels()
order = [l.index("Observations"), l.index("Models")]
ax1.legend([h[i] for i in order], [l[i] for i in order], loc="upper right",
           frameon=False, markerfirst=False, handlelength=0.4,
           handletextpad=0.15, labelspacing=0.0, borderaxespad=0.3,
           prop={"family": serif, "size": 13})

fig.savefig("out.png", dpi=100)
